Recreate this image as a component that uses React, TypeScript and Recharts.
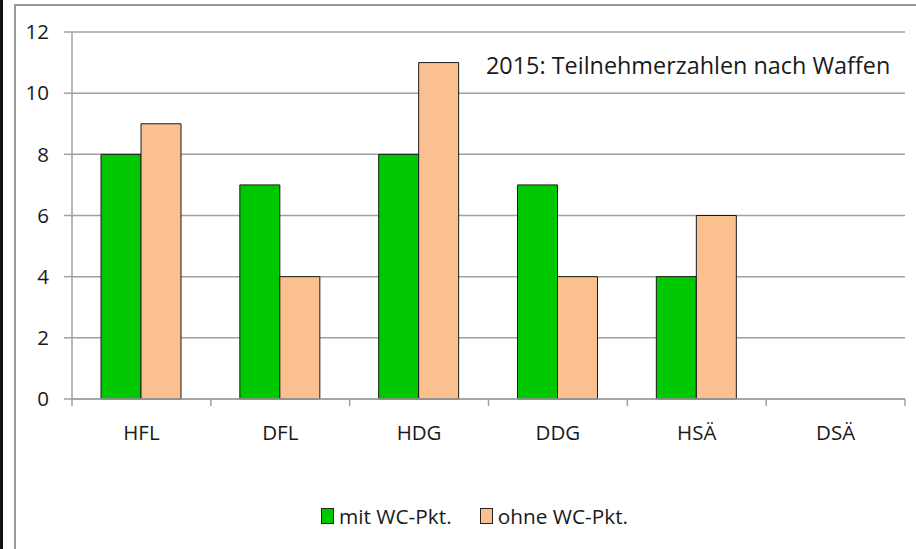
import React from "react";
import { BarChart, Bar, XAxis, YAxis, CartesianGrid, Legend, Customized } from "recharts";

const categories = ["HFL", "DFL", "HDG", "DDG", "HSÄ", "DSÄ"];
const mitWC = [8, 7, 8, 7, 4, 0];
const ohneWC = [9, 4, 11, 4, 6, 0];
const yTicks = [0, 2, 4, 6, 8, 10, 12];
const seriesNames = ["mit WC-Pkt.", "ohne WC-Pkt."];
const title = "2015: Teilnehmerzahlen nach Waffen";

const data = categories.map((c, i) => ({ cat: c, mit: mitWC[i], ohne: ohneWC[i] }));

const W = 916;
const H = 549;
const MARGIN = { top: 32, right: 11, left: 0, bottom: 100 };
const Y_W = 72;
const X_H = 50;
const FONT = "'Open Sans', sans-serif";
const GREEN = "#00C800";
const PEACH = "#FAC08F";
const GRID = "#A0A0A0";
const TEXT = "#1a1a1a";

const plotW = W - MARGIN.left - MARGIN.right - Y_W;
const band = plotW / categories.length;

const XTick = (props: any) => {
  const { x, y, payload, index } = props;
  const left = x - band / 2;
  const right = x + band / 2;
  return (
    <g>
      <line x1={left} x2={left} y1={y} y2={y + 7} stroke={GRID} strokeWidth={1.5} />
      {index === categories.length - 1 && (
        <line x1={right} x2={right} y1={y} y2={y + 7} stroke={GRID} strokeWidth={1.5} />
      )}
      <text x={x} y={y + 41} textAnchor="middle" fill={TEXT} fontSize={20.5} fontFamily={FONT}>
        {payload.value}
      </text>
    </g>
  );
};

const LegendContent = (props: any) => {
  const { payload } = props;
  return (
    <div style={{ display: "flex", alignItems: "center", fontFamily: FONT, fontSize: 20.8, color: TEXT }}>
      {(payload || []).map((p: any, i: number) => (
        <div key={i} style={{ display: "flex", alignItems: "center", marginRight: i === 0 ? 28 : 0 }}>
          <span
            style={{
              display: "inline-block",
              width: 11,
              height: 14,
              background: p.color,
              border: "1px solid #222",
              marginRight: 5,
            }}
          />
          <span>{p.value}</span>
        </div>
      ))}
    </div>
  );
};

const Title = () => (
  <text x={486} y={74} fill={TEXT} fontSize={23.4} fontFamily={FONT}>
    {title}
  </text>
);

export default function App() {
  return (
    <div style={{ position: "absolute", left: 0, top: 0, width: W, height: H, background: "#fff" }}>
      <div style={{ position: "absolute", left: 0, top: 0, width: 3, height: H, background: "#111" }} />
      <div
        style={{
          position: "absolute",
          left: 14,
          top: 4,
          width: W - 14,
          height: H - 4,
          borderLeft: "2px solid #999",
          borderTop: "2px solid #999",
          boxSizing: "border-box",
        }}
      />
      <div style={{ position: "absolute", left: 0, top: 0 }}>
        <BarChart width={W} height={H} data={data} margin={MARGIN} barGap={0}>
          <CartesianGrid vertical={false} stroke={GRID} strokeWidth={1.5} />
          <XAxis
            dataKey="cat"
            height={X_H}
            tickLine={false}
            tickSize={0}
            tickMargin={0}
            axisLine={{ stroke: GRID, strokeWidth: 1.5 }}
            tick={<XTick />}
            interval={0}
          />
          <YAxis
            width={Y_W}
            domain={[0, 12]}
            ticks={yTicks}
            interval={0}
            tickSize={8}
            tickMargin={15}
            axisLine={{ stroke: GRID, strokeWidth: 1.5 }}
            tickLine={{ stroke: GRID, strokeWidth: 1.5 }}
            tick={{ fill: TEXT, fontSize: 20.5, fontFamily: FONT }}
          />
          <Bar dataKey="mit" name={seriesNames[0]} fill={GREEN} stroke="#1a1a1a" strokeWidth={1} barSize={40} isAnimationActive={false} />
          <Bar dataKey="ohne" name={seriesNames[1]} fill={PEACH} stroke="#1a1a1a" strokeWidth={1} barSize={40} isAnimationActive={false} />
          <Legend
            verticalAlign="middle"
            layout="horizontal"
            content={<LegendContent />}
            wrapperStyle={{ left: 321, top: 502, width: 400, height: 24 }}
          />
          <Customized component={Title} />
        </BarChart>
      </div>
    </div>
  );
}
